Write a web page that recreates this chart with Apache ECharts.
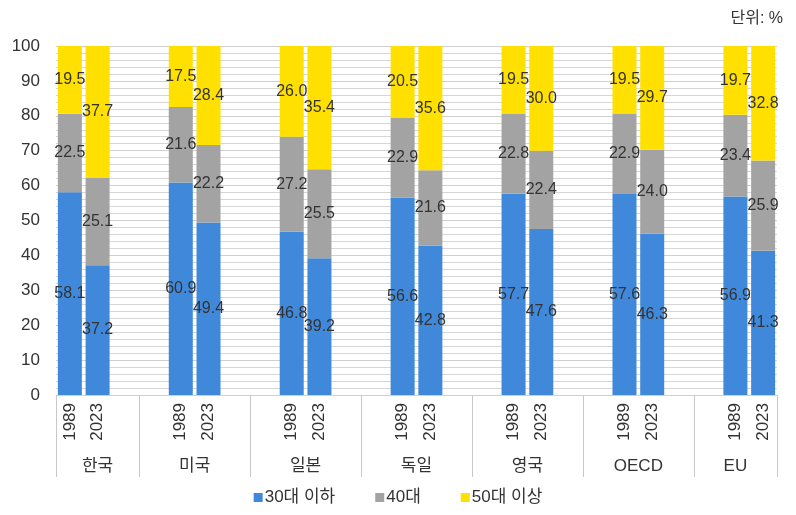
<!DOCTYPE html>
<html>
<head>
<meta charset="utf-8">
<script src="https://cdn.jsdelivr.net/npm/echarts@6/dist/echarts.min.js"></script>
<style>
  html, body { margin: 0; padding: 0; background: #fff; }
  #chart { width: 796px; height: 515px; }
</style>
</head>
<body>
<div id="chart"></div>
<script>
// Age-group shares by country, 1989 vs 2023 (unit: %)
const countries = ['한국', '미국', '일본', '독일', '영국', 'OECD', 'EU'];
const years = ['1989', '2023'];
const seriesNames = ['30대 이하', '40대', '50대 이상'];
// values ordered country by country: [1989, 2023, 1989, 2023, ...]
const under30 = [58.1, 37.2, 60.9, 49.4, 46.8, 39.2, 56.6, 42.8, 57.7, 47.6, 57.6, 46.3, 56.9, 41.3];
const age40s  = [22.5, 25.1, 21.6, 22.2, 27.2, 25.5, 22.9, 21.6, 22.8, 22.4, 22.9, 24.0, 23.4, 25.9];
const over50  = [19.5, 37.7, 17.5, 28.4, 26.0, 35.4, 20.5, 35.6, 19.5, 30.0, 19.5, 29.7, 19.7, 32.8];
const yTicks = [0, 10, 20, 30, 40, 50, 60, 70, 80, 90, 100];

const colors = ['#3f88da', '#a3a3a3', '#ffe000'];
const FONT = '"Liberation Sans", "Noto Sans CJK KR", sans-serif';

// Slot layout: two bars per country, two empty slots between countries
const slotLabels = [];
const slotIndex = []; // slot -> data index or -1
countries.forEach((c, ci) => {
  years.forEach((y, yi) => {
    slotLabels.push(y);
    slotIndex.push(ci * years.length + yi);
  });
  if (ci < countries.length - 1) {
    slotLabels.push('', '');
    slotIndex.push(-1, -1);
  }
});
const nSlots = slotLabels.length;

function toSlots(arr) {
  return slotIndex.map(i => (i < 0 ? null : arr[i]));
}

// Half-slot resolution axis for country names and group dividers
const nPoints = nSlots * 2 + 1;
const groupLabels = new Array(nPoints).fill('');
const dividerPoints = new Set();
let slotPos = 0;
countries.forEach((c, ci) => {
  const start = slotPos;
  const end = ci < countries.length - 1 ? slotPos + 3 : slotPos + 2;
  const groupStart = ci === 0 ? 0 : start - 1;
  const groupEnd = ci < countries.length - 1 ? start + 3 : nSlots;
  dividerPoints.add(groupStart * 2);
  dividerPoints.add(groupEnd * 2);
  groupLabels[groupStart + groupEnd] = c;
  slotPos += ci < countries.length - 1 ? 4 : 2;
});

const labelStyle = {
  show: true,
  position: 'inside',
  color: '#333',
  fontSize: 16,
  fontFamily: FONT,
  formatter: p => (p.value == null ? '' : Number(p.value).toFixed(1))
};

const chart = echarts.init(document.getElementById('chart'));
chart.setOption({
  animation: false,
  backgroundColor: '#fff',
  title: {
    text: '단위: %',
    right: 8,
    top: 6,
    textStyle: { fontSize: 16, fontWeight: 'normal', color: '#333', fontFamily: FONT }
  },
  legend: {
    bottom: 4,
    left: 'center',
    icon: 'rect',
    itemWidth: 9,
    itemHeight: 9,
    itemGap: 40,
    textStyle: { fontSize: 17, color: '#333', fontFamily: FONT, padding: [0, 0, 0, -3] },
    data: seriesNames
  },
  grid: { left: 56, right: 19, top: 46, bottom: 120, containLabel: false },
  xAxis: [
    {
      type: 'category',
      data: slotLabels,
      axisLine: { show: true, lineStyle: { color: '#d0d0d0' } },
      axisTick: { show: false },
      axisLabel: {
        interval: 0,
        rotate: 90,
        margin: 8,
        fontSize: 17,
        color: '#333',
        fontFamily: FONT
      },
      splitLine: { show: false }
    },
    {
      type: 'category',
      position: 'bottom',
      boundaryGap: false,
      data: groupLabels,
      axisLine: { show: false },
      axisTick: {
        show: true,
        length: 82,
        interval: i => dividerPoints.has(i),
        lineStyle: { color: '#c8c8c8' }
      },
      axisLabel: {
        interval: 0,
        margin: 63,
        fontSize: 17,
        color: '#333',
        fontFamily: FONT
      },
      splitLine: { show: false }
    }
  ],
  yAxis: {
    type: 'value',
    min: yTicks[0],
    max: yTicks[yTicks.length - 1],
    interval: 10,
    axisLine: { show: false },
    axisTick: { show: false },
    axisLabel: { margin: 16, fontSize: 17, color: '#333', fontFamily: FONT },
    splitLine: { show: true, lineStyle: { color: '#d0d0d0' } },
    minorTick: { show: false, splitNumber: 5 },
    minorSplitLine: { show: true, lineStyle: { color: '#d6d6d6' } }
  },
  series: [under30, age40s, over50].map((arr, k) => ({
    name: seriesNames[k],
    type: 'bar',
    stack: 'total',
    xAxisIndex: 0,
    barWidth: 24,
    itemStyle: { color: colors[k] },
    label: labelStyle,
    data: toSlots(arr)
  }))
});
</script>
</body>
</html>
